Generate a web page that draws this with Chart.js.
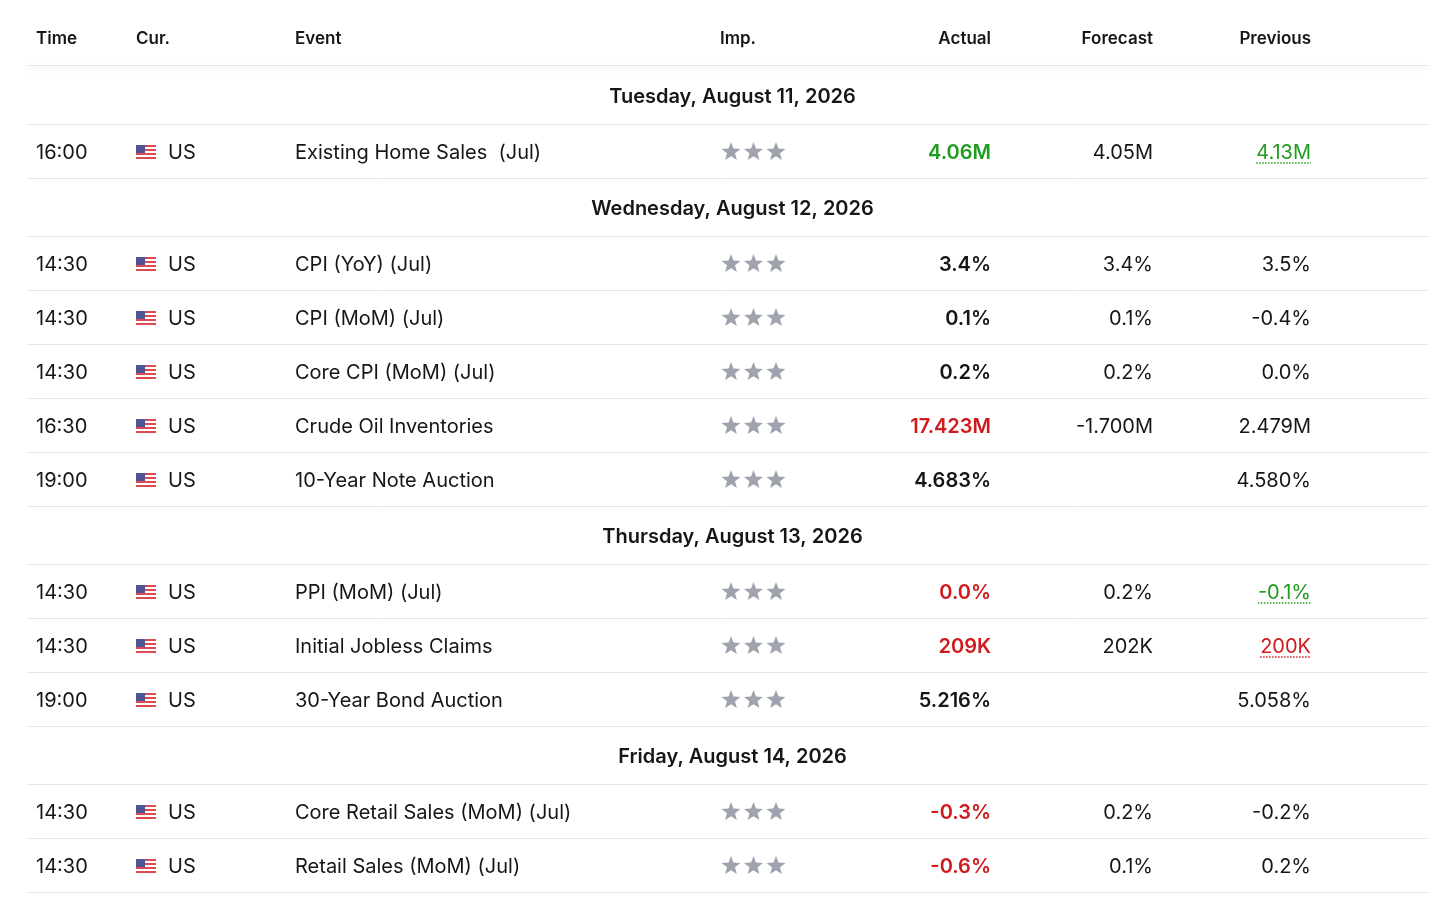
<!DOCTYPE html>
<html>
<head>
<meta charset="utf-8">
<script src="https://cdn.jsdelivr.net/npm/chart.js@4.4.1/dist/chart.umd.min.js"></script>
<style>
  html, body { margin: 0; padding: 0; background: #fff; }
  #wrap { width: 1456px; height: 906px; position: relative; }
</style>
</head>
<body>
<div id="wrap"><canvas id="cal"></canvas></div>
<script>
const columns = ['Time', 'Cur.', 'Event', 'Imp.', 'Actual', 'Forecast', 'Previous']
const days = ['Tuesday, August 11, 2026', 'Wednesday, August 12, 2026', 'Thursday, August 13, 2026', 'Friday, August 14, 2026']
const eventDay = [0, 1, 1, 1, 1, 1, 2, 2, 2, 3, 3]
const times = ['16:00', '14:30', '14:30', '14:30', '16:30', '19:00', '14:30', '14:30', '19:00', '14:30', '14:30']
const currencies = ['US', 'US', 'US', 'US', 'US', 'US', 'US', 'US', 'US', 'US', 'US']
const events = ['Existing Home Sales  (Jul)', 'CPI (YoY) (Jul)', 'CPI (MoM) (Jul)', 'Core CPI (MoM) (Jul)', 'Crude Oil Inventories', '10-Year Note Auction', 'PPI (MoM) (Jul)', 'Initial Jobless Claims', '30-Year Bond Auction', 'Core Retail Sales (MoM) (Jul)', 'Retail Sales (MoM) (Jul)']
const importance = [3, 3, 3, 3, 3, 3, 3, 3, 3, 3, 3]
const actual = ['4.06M', '3.4%', '0.1%', '0.2%', '17.423M', '4.683%', '0.0%', '209K', '5.216%', '-0.3%', '-0.6%']
const actualTone = ['up', '', '', '', 'down', '', 'down', 'down', '', 'down', 'down']
const forecast = ['4.05M', '3.4%', '0.1%', '0.2%', '-1.700M', '', '0.2%', '202K', '', '0.2%', '0.1%']
const previous = ['4.13M', '3.5%', '-0.4%', '0.0%', '2.479M', '4.580%', '-0.1%', '200K', '5.058%', '-0.2%', '0.2%']
const previousTone = ['up', '', '', '', '', '', 'up', 'down', '', '', '']

// --- layout / style ---
const FONT = 'Inter, "Noto Sans", sans-serif'
const INK = '#161616'
const TONE = { up: '#1f9d1f', down: '#d11a1c', '': INK }
const DAY_H = 58, EVENT_H = 54, HEAD_H = 58
const TEXT_DY = 1.5
// column anchor (x units inside the table) and alignment
const colX = [9, 109, 268, 693, 964, 1126, 1284]
const colAlign = ['left', 'left', 'left', 'left', 'right', 'right', 'right']

// rows: a date header followed by its events
const rows = []
days.forEach((d, di) => {
    rows.push({ type: 'day', label: d })
    eventDay.forEach((ed, i) => { if (ed === di) rows.push({ type: 'event', i }) })
})
let acc = 0
rows.forEach(r => {
    r.start = acc
    r.h = r.type === 'day' ? DAY_H : EVENT_H
    acc += r.h
})
const tableH = acc
const boundaries = rows.map(r => r.start + r.h)

function star(ctx, cx, cy, R, r) {
    ctx.beginPath()
    for (let k = 0; k < 10; k++) {
        const rad = k % 2 === 0 ? R : r
        const a = -Math.PI / 2 + k * Math.PI / 5
        ctx.lineTo(cx + rad * Math.cos(a), cy + rad * Math.sin(a))
    }
    ctx.closePath()
    ctx.fill()
}

function flag(ctx, x, cy) {
    const w = 20, h = 14, top = Math.round(cy - h / 2)
    for (let s = 0; s < 7; s++) {
        ctx.fillStyle = s % 2 === 0 ? '#dc4a52' : '#ffffff'
        ctx.fillRect(x, top + s * 2, w, 2)
    }
    ctx.fillStyle = '#4f5593'
    ctx.fillRect(x, top, 9, 8)
}

const tablePlugin = {
    id: 'tableCells',
    afterDraw(chart) {
        const { ctx, chartArea } = chart
        const xs = chart.scales.x, ys = chart.scales.y
        const px = c => xs.getPixelForValue(colX[c])

        ctx.save()
        // header separator with a soft shadow
        ctx.fillStyle = '#fff'
        ctx.shadowColor = 'rgba(0,0,0,0.07)'
        ctx.shadowBlur = 8
        ctx.shadowOffsetY = 3
        ctx.fillRect(chartArea.left, chartArea.top - 2, chartArea.right - chartArea.left, 2)
        ctx.restore()
        ctx.save()
        ctx.strokeStyle = '#e6e6ea'
        ctx.lineWidth = 1
        ctx.beginPath()
        ctx.moveTo(chartArea.left, chartArea.top - 0.5)
        ctx.lineTo(chartArea.right, chartArea.top - 0.5)
        ctx.stroke()

        // column header
        ctx.textBaseline = 'middle'
        ctx.fillStyle = INK
        ctx.font = '600 17px ' + FONT
        const hy = ys.getPixelForValue(-HEAD_H / 2) + TEXT_DY
        columns.forEach((c, k) => {
            ctx.textAlign = colAlign[k]
            ctx.fillText(c, px(k), hy)
        })

        rows.forEach(r => {
            const cy = ys.getPixelForValue(r.start + r.h / 2)
            const ty = cy + TEXT_DY
            if (r.type === 'day') {
                ctx.font = '600 20px ' + FONT
                ctx.fillStyle = INK
                ctx.textAlign = 'center'
                ctx.fillText(r.label, (chartArea.left + chartArea.right) / 2 + 5, ty)
                return
            }
            const i = r.i
            ctx.font = '400 20px ' + FONT
            ctx.fillStyle = INK
            ctx.textAlign = 'left'
            ctx.fillText(times[i], px(0), ty)
            flag(ctx, px(1), cy + 0.5)
            ctx.fillStyle = INK
            ctx.fillText(currencies[i], px(1) + 32, ty)
            ctx.fillText(events[i], px(2), ty)

            ctx.fillStyle = '#9ea3ad'
            for (let s = 0; s < importance[i]; s++) star(ctx, px(3) + 11 + s * 22.5, cy + 1, 10, 4.2)

            ctx.textAlign = 'right'
            ctx.font = '600 20px ' + FONT
            ctx.fillStyle = TONE[actualTone[i]]
            ctx.fillText(actual[i], px(4), ty)

            ctx.font = '400 20px ' + FONT
            ctx.fillStyle = INK
            ctx.fillText(forecast[i], px(5), ty)

            ctx.fillStyle = TONE[previousTone[i]]
            ctx.fillText(previous[i], px(6), ty)
            if (previousTone[i]) {
                const w = ctx.measureText(previous[i]).width
                ctx.strokeStyle = TONE[previousTone[i]]
                ctx.lineWidth = 1.5
                ctx.setLineDash([1.5, 1.5])
                ctx.beginPath()
                ctx.moveTo(px(6) - w, ty + 10.5)
                ctx.lineTo(px(6), ty + 10.5)
                ctx.stroke()
                ctx.setLineDash([])
            }
        })
        ctx.restore()
    }
}

function build() {
    new Chart(document.getElementById('cal'), {
        type: 'scatter',
        data: { datasets: [{ data: [], pointRadius: 0 }] },
        options: {
            responsive: true,
            maintainAspectRatio: false,
            animation: false,
            events: [],
            layout: { padding: { left: 27, right: 28, top: 66, bottom: 14 } },
            plugins: { legend: { display: false }, tooltip: { enabled: false } },
            scales: {
                x: { type: 'linear', min: 0, max: 1401, display: false },
                y: {
                    type: 'linear', reverse: true, min: 0, max: tableH,
                    afterBuildTicks: s => { s.ticks = boundaries.map(v => ({ value: v })) },
                    afterFit: s => { s.width = 0 },
                    ticks: { display: false },
                    border: { display: false },
                    grid: { color: '#e6e6ea', lineWidth: 1, drawTicks: false }
                }
            }
        },
        plugins: [tablePlugin]
    })
}

if (document.fonts && document.fonts.load) {
    Promise.all([document.fonts.load('400 20px Inter'), document.fonts.load('600 20px Inter')]).then(build, build)
} else {
    build()
}
</script>
</body>
</html>
